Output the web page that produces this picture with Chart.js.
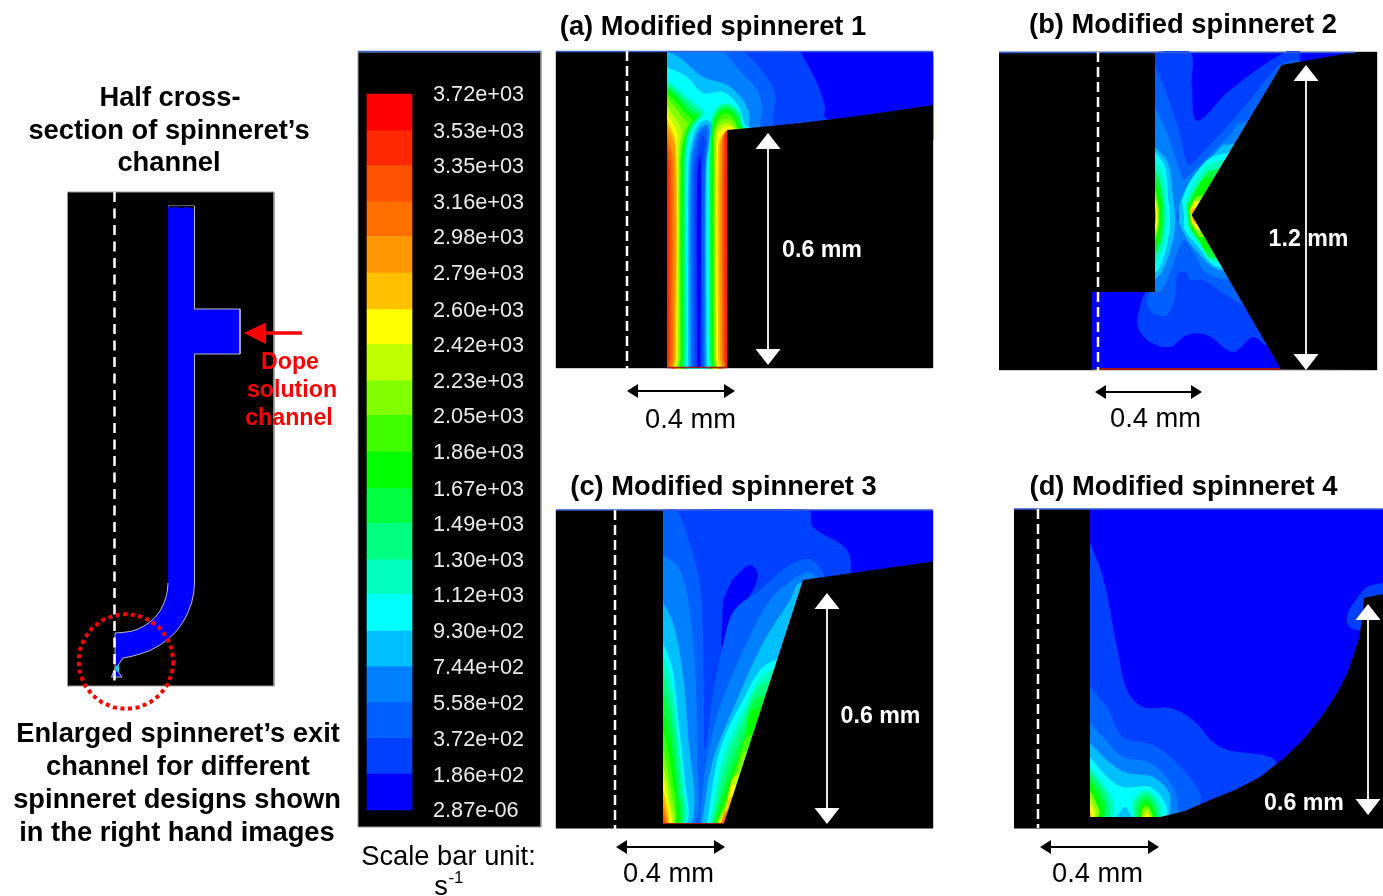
<!DOCTYPE html>
<html><head><meta charset="utf-8">
<style>html,body{margin:0;padding:0;background:#fff}canvas{display:block;filter:blur(0.5px)}</style>
<script src="https://cdn.jsdelivr.net/npm/chart.js@4"></script></head>
<body><canvas id="c" width="1383" height="896"></canvas>
<script>
// ---- scale bar ----
const tickLabels=['3.72e+03','3.53e+03','3.35e+03','3.16e+03','2.98e+03','2.79e+03','2.60e+03','2.42e+03','2.23e+03','2.05e+03','1.86e+03','1.67e+03','1.49e+03','1.30e+03','1.12e+03','9.30e+02','7.44e+02','5.58e+02','3.72e+02','1.86e+02','2.87e-06'];
const levels=[3720,3530,3350,3160,2980,2790,2600,2420,2230,2050,1860,1670,1490,1300,1120,930,744,558,372,186,0.00000287];
const bandColors=['#ff0000','#ff2800','#ff5000','#ff7000','#ff9800','#ffc000','#ffff00','#bfff00','#80ff00','#40ff00','#00ff00','#00ff40','#00ff80','#00ffbf','#00ffff','#00bfff','#0080ff','#0060ff','#0040ff','#0000ff'];

// ---- contour bands: [band, outline] in painter's order ----
const panelA=[
[1,[667,51,933,51,933,140,727,368,667,368]],
[2,[667,150,669,170,669,368,724.5,368,724.5,142,727,131,933,140,933,51,667,51]],
[3,[667,140,671,165,671,368,723.5,368,723.5,144,728,131,933,140,933,51,667,51]],
[4,[667,133,673,160,673,368,722,368,722,145,727,131,933,140,933,51,667,51]],
[5,[667,124,675,150,675,368,720,368,720,146,724,134,730,129,933,140,933,51,667,51]],
[6,[667,118,676,146,676,368,718,368,718,147,722,135,729,130,933,140,933,51,667,51]],
[7,[667,112,672,122,677,135,677,368,716.5,368,716.5,150,718,134,724,127,731,127,734,129,933,140,933,51,667,51]],
[8,[667,106,674,116,680,126,681,134,679,150,678.5,170,678.5,368,715,368,715,150,716,132,723,124,730,124,736,129,933,140,933,51,667,51]],
[9,[667,98,675,107,683,118,688,124,684,132,681,148,680,170,680,368,714,368,714,150,715,130,722,120,729,119,735,123,738,129,933,140,933,51,667,51]],
[10,[667,93,676,102,686,114,692,120,688,128,683,145,681,168,681,368,713,368,713,150,714,128,721,115,729,114,735,120,739,128,933,140,933,51,667,51]],
[11,[667,89,678,99,688,111,696,117,690,126,685,142,682.5,168,682.5,368,711.5,368,711.5,150,713,127,719,113,728,110,736,117,742,128,933,140,933,51,667,51]],
[12,[667,86,679,97,690,109,699,115,692,125,686,140,684,165,684,368,710.5,368,710.5,150,712,126,718,111,728,107,738,115,744,128,933,140,933,51,667,51]],
[13,[667,83,680,94,693,106,702,114,694,124,688,138,685.5,165,685.5,368,709.5,368,709.5,150,711,125,717,109,728,105,739,114,745,128,933,140,933,51,667,51]],
[14,[667,80,680,91,695,103,705,113,697,122,690,137,686.5,165,686.5,368,708.5,368,708.5,150,710,125,716,108,728,103,740,112,746,128,933,140,933,51,667,51]],
[15,[667,67,687,77,703,93,723,92,738,105,750,128,933,140,933,51,667,51]],
[15,[688,368,688.5,165,692,140,698,125,706,120,712,124,710,140,707,165,707,368]],
[16,[667,51,680,58,703,77,727,85,743,100,749,113,752,128,933,140,933,51]],
[16,[690,368,690,170,694,142,700,128,708,125,709,140,705.5,170,705.5,368]],
[17,[723,51,742,73,757,90,762,107,763,128,933,140,933,51]],
[17,[692,368,692,170,697,140,702,130,707,130,705,170,704,368]],
[18,[743,51,760,68,775,93,777,126,933,140,933,51]],
[18,[694.5,368,694.5,170,699,145,703,135,705,145,702.5,170,702,368]],
[19,[800,51,817,83,825,107,826,118,933,140,933,51]],
[19,[697,368,697,180,700,155,701,180,700.5,368]]];
const masksA=[[727,130,760,127,800,123,850,117,900,110,933,105,933,368,727,368],[556,51,667,51,667,368,556,368]];

const panelB=[
[19,[1155,52,1376,52,1376,369,1092,369,1092,292,1155,292]],
[18,[1155,52,1190,52,1192,85,1197,121,1230,90,1285,52,1300,52,1300,350,1266,345,1253,337,1233,352,1207,335,1187,335,1170,347,1150,342,1138,327,1140,307,1146,292,1155,292]],
[17,[1155,65,1165,90,1177,125,1186,160,1190,165,1205,150,1240,112,1270,75,1283,63,1300,63,1300,310,1255,310,1223,293,1203,280,1190,280,1187,273,1178,273,1175,297,1167,315,1153,313,1147,303,1150,292,1155,292]],
[16,[1155,107,1167,133,1177,163,1183,180,1186,178,1207,158,1230,135,1240,123,1300,123,1300,285,1233,280,1207,273,1192,250,1184,240,1178,250,1170,273,1160,292,1155,292]],
[17,[1176,217,1178,213,1182,213,1184,217,1182,221,1178,221]],
[15,[1155,147,1168,163,1173,197,1175,217,1173,240,1163,270,1155,280]],
[15,[1179,205,1190,181,1218,150,1224,145,1300,145,1300,270,1220,270,1193,247,1183,232,1179,222]],
[14,[1155,152,1165,167,1168,197,1170,217,1168,240,1160,267,1155,273]],
[14,[1182,200,1193,177,1217,155,1300,155,1300,267,1218,267,1197,245,1185,230,1184,215]],
[13,[1155,160,1162,172,1166,197,1167,217,1165,240,1159,258,1155,265]],
[13,[1185,202,1196,180,1214,162,1300,162,1300,262,1214,262,1200,245,1188,230,1186,215]],
[11,[1155,170,1160,182,1163,200,1164,217,1162,238,1157,252,1155,256]],
[11,[1187,205,1198,185,1212,170,1300,170,1300,258,1211,258,1200,242,1190,228,1188,215]],
[10,[1155,180,1160,195,1161,217,1160,235,1155,250]],
[10,[1188,207,1197,190,1206,178,1300,178,1300,250,1206,250,1199,240,1191,227,1189,215]],
[8,[1155,190,1158.5,205,1159,217,1158,230,1155,240]],
[8,[1189.5,209,1194,200,1198,196,1300,196,1300,237,1200,237,1196,232,1191,224,1190,215]],
[6,[1155,198,1157,208,1157.5,217,1157,226,1155,232]],
[6,[1190,210,1193,205,1195,201,1300,201,1300,230,1197,230,1195,227,1192,222,1191,215]],
[5,[1155,203,1156,217,1155,228]],
[5,[1191,212,1193,208,1300,208,1300,224,1195,224,1192.5,220]],
[3,[1155,208,1155.8,217,1155,224]],
[3,[1192,214,1194,211,1300,211,1300,220,1194,220,1193,218]]];
const masksB=[[1355,52,1281.7,65,1191.7,215,1280.7,369,1377,370,1377,52],[999,52,1155,52,1155,292,999,292],[999,292,1092,292,1092,370,999,370]];

const panelC=[
[19,[663,510,933,510,933,600,800,828,663,823]],
[18,[663,510,808,510,813,527,847,550,851,580,850,600,730,828,663,828]],
[19,[732,580,750,565,758,575,747,600,732,613,722,647,723,600]],
[17,[663,510,676,510,690,545,700,585,703,640,704,700,705,750,712,700,722,650,735,610,760,590,785,568,808,559,822,570,825,585,800,828,663,828]],
[16,[663,555,678,567,688,600,695,667,697,750,695,823,663,823]],
[16,[700,823,705,770,720,707,745,647,768,603,788,583,808,572,816,578,816,600,780,828]],
[15,[663,602,673,623,682,667,688,733,692,823,663,823]],
[15,[702,823,713,760,737,700,763,643,790,600,799,583,810,590,810,640,750,828]],
[14,[663,643,672,667,678,717,685,783,687,823,663,823]],
[14,[707,823,720,750,743,700,767,664,800,664,800,828]],
[13,[663,655,671,680,677,725,683,783,685,823,663,823]],
[13,[710,823,723,757,745,707,766,673,800,673,800,828]],
[12,[663,670,670,695,676,735,681,785,683,823,663,823]],
[12,[712,823,725,765,745,716,762,684,800,684,800,828]],
[11,[663,690,669,710,674,745,679,790,681,823,663,823]],
[11,[713.5,823,727,775,745,728,757,698,800,698,800,828]],
[10,[663,712,668,730,673,760,677,795,679,823,663,823]],
[10,[715,823,728,785,745,738,753,710,800,710,800,828]],
[9,[663,730,668,750,672,775,676,823,663,823]],
[9,[716,823,729,790,743,745,750,735,800,735,800,828]],
[8,[663,750,667,768,671,790,675,823,663,823]],
[8,[717,823,730,795,740,762,745,752,800,752,800,828]],
[7,[663,765,667,782,670,800,673,823,663,823]],
[7,[718,823,728,805,736,775,800,775,800,828]],
[6,[663,777,666,792,669,808,671.5,823,663,823]],
[6,[719,823,727,805,733,785,800,785,800,828]],
[5,[663,788,666,802,669,823,663,823]],
[5,[720,823,727,808,731,797,800,797,800,828]],
[4,[663,797,665.5,810,667.5,823,663,823]],
[4,[721,823,727,810,800,810,800,828]],
[3,[663,805,665,814,666.5,823,663,823]],
[3,[722,823,726,815,800,815,800,828]],
[2,[663,813,665,823,663,823]],
[2,[723,823,728,818,800,818,800,828]]];
const masksC=[[663,823,724,823,803,580,933,561.5,933,829,663,829],[556,510,663,510,663,829,556,829]];

const panelD=[
[19,[1090,509,1383,509,1383,827,1090,827]],
[18,[1090,543,1103,577,1117,647,1127,690,1143,707,1170,708,1193,720,1220,747,1270,757,1278,767,1278,830,1090,830]],
[18,[1383,583,1367,587,1358,597,1348,613,1348,625,1356,630,1370,630,1383,630]],
[17,[1090,687,1107,707,1123,737,1153,745,1177,763,1200,793,1200,807,1200,830,1090,830]],
[16,[1090,723,1103,737,1123,757,1150,763,1173,787,1178,810,1178,830,1090,830]],
[15,[1090,743,1110,763,1127,773,1153,777,1169,793,1170,815,1170,830,1090,830]],
[14,[1090,757,1107,777,1123,787,1150,787,1165,803,1165,817,1090,817]],
[15,[1117,817,1125,807,1132,817]],
[13,[1090,767,1103,783,1113,800,1112,817,1090,817]],
[13,[1133,817,1133,800,1147,790,1160,803,1162,817]],
[12,[1090,772,1102,787,1109,803,1108,817,1090,817]],
[12,[1135,817,1135,802,1147,793,1157,805,1159,817]],
[11,[1090,777,1100,790,1106,805,1105,817,1090,817]],
[11,[1137,817,1138,805,1147,797,1155,807,1157,817]],
[10,[1090,782,1097,793,1103,807,1102,817,1090,817]],
[10,[1139,817,1140,807,1147,801,1153,809,1155,817]],
[8,[1090,790,1095,800,1099,810,1098,817,1090,817]],
[8,[1141,817,1142,810,1147,806,1151,811,1153,817]],
[7,[1090,797,1094,806,1096,812,1096,817,1090,817]],
[7,[1142.5,817,1147,810,1151,817]],
[6,[1090,803,1093,810,1094,817,1090,817]],
[6,[1144,817,1147,813,1150,817]],
[5,[1090,810,1092,817,1090,817]]];
const masksD=[[1090,817,1160,817,1185,811,1210,800,1235,790,1260,777,1283,759,1303,740,1322,716,1337,693,1347,674,1353,657,1359,638,1362,620,1364,598,1383,594,1383,829,1090,829],[1014,509,1090,509,1090,829,1014,829]];

// white page margins around the panels
const pageMargins=[[545,0,1383,51],[933.5,0,999,510],[1377.5,0,1383,508.5],[545,369,999,509],[999,371,1383,508.5],[933.5,509,1014,896],[545,828.5,1383,896]];

// ---- overview channel ----
const overviewChannel=[168,206,194.5,206,194.5,309,240,309,240,354,194.5,354,194.5,583,193.7,593,191.5,603,188,612.5,183,622,176.5,631,169,638.5,160,645,150,650.5,140,654,131,656.5,123,658,119,664,115.5,668,122,677,111.5,677,115,668,115,633,122,632.5,130,631.5,137,629.5,144,626,150,622,155.5,617,160,611,163.5,604,166,597,167.5,590,168,583];
const overviewInlet=[169,208,175,207,181,208,187,207,194,209,194,206,169,206];
const overviewExitCyan=[115.5,667,119,664,119,672,115.5,671];
const overviewRing=[173.5,661.5,171.9,673.8,167.1,685.3,159.6,695.1,149.8,702.6,138.3,707.4,126,709,113.7,707.4,102.2,702.6,92.4,695.1,84.9,685.3,80.1,673.8,78.5,661.5,80.1,649.2,84.9,637.8,92.4,627.9,102.2,620.4,113.7,615.6,126,614,138.3,615.6,149.8,620.4,159.6,627.9,167.1,637.8,171.9,649.2,173.5,661.5];

// ---- frames, axes of symmetry, dimension arrows ----
const frames=[[67.5,192,274,686],[358,52,541,827],[556,51,933,368],[999,52,1377,370],[556,510,933,828],[1014,509,1383,827]];
const symmetryLines=[[114.5,192,686],[627,51,369],[1098,52,371],[615,510,829],[1038,509,828]];
const whiteDimensions=[[768,133,365],[1306,65,370],[827,593,824],[1368,604,815]];
const blackDimensions=[[627,735,391],[1095,1202,392],[616,725,847],[1040,1159,847]];
const topEdges=[[358,541,51.5],[556,933,51.5],[999,1355,52.5],[556,933,510],[1014,1383,509]];

const boldTitle='bold 27.3px "Liberation Sans"',boldDim='bold 23.2px "Liberation Sans"',regDim='27.3px "Liberation Sans"';
const annotations=[
['Half cross-',170,98.5,boldTitle,'#000'],['section of spinneret’s',169,131.5,boldTitle,'#000'],['channel',169,163.5,boldTitle,'#000'],
['Enlarged spinneret’s exit',178,734.5,boldTitle,'#000'],['channel for different',178,767.5,boldTitle,'#000'],['spinneret designs shown',177,800.5,boldTitle,'#000'],['in the right hand images',177,833.5,boldTitle,'#000'],
['(a) Modified spinneret 1',713,27.5,boldTitle,'#000'],['(b) Modified spinneret 2',1183,25.5,boldTitle,'#000'],['(c) Modified spinneret 3',723.5,487.5,boldTitle,'#000'],['(d) Modified spinneret 4',1183.5,487.5,boldTitle,'#000'],
['0.6 mm',822,250.5,boldDim,'#fff'],['1.2 mm',1308.5,239.5,boldDim,'#fff'],['0.6 mm',880.5,716.5,boldDim,'#fff'],['0.6 mm',1304,803.5,boldDim,'#fff'],
['0.4 mm',690.5,420.5,regDim,'#000'],['0.4 mm',1155.5,419.5,regDim,'#000'],['0.4 mm',668.5,874.5,regDim,'#000'],['0.4 mm',1097.5,874.5,regDim,'#000'],
['Dope',290,362.5,boldDim,'#f00'],['solution',292,390.5,boldDim,'#f00'],['channel',289,418.5,boldDim,'#f00'],
['Scale bar unit:',448.5,857.5,regDim,'#000'],['s',441,887,regDim,'#000'],['-1',456,878,'17px "Liberation Sans"','#000']];

// ---- build datasets ----
const toPts=f=>{const a=[];for(let i=0;i<f.length;i+=2)a.push({x:f[i],y:f[i+1]});return a;};
const list=[];
const shape=(f,color,extra)=>list.push(Object.assign({type:'scatter',data:toPts(f),showLine:true,fill:'shape',backgroundColor:color,borderColor:color,borderWidth:0,pointRadius:0,tension:0},extra||{}));
const stroke=(f,color,w,extra)=>list.push(Object.assign({type:'scatter',data:toPts(f),showLine:true,fill:false,borderColor:color,borderWidth:w,pointRadius:0,tension:0},extra||{}));
const rect=([a,b,c,d],color,extra)=>shape([a,b,c,b,c,d,a,d,a,b],color,extra);
// keep the straight channel walls straight when the outline is smoothed
const holdBottom=f=>{const o=[];const n=f.length/2;for(let i=0;i<n;i++){const x=f[2*i],y=f[2*i+1];
  const before=i>0&&f[2*i-1]!==368,after=i<n-1&&f[2*i+3]!==368;
  if(y===368&&before)o.push(x,358);o.push(x,y);if(y===368&&after)o.push(x,358);}return o;};

frames.forEach(r=>rect(r,'#000',{borderColor:'#9a9a9a',borderWidth:1}));
list.push({type:'bar',xAxisID:'x',yAxisID:'yv',data:bandColors.map((_,i)=>({x:389.5,y:[levels[i+1],levels[i]]})),backgroundColor:bandColors,barThickness:45,borderWidth:0});
[[panelA,masksA],[panelB,masksB],[panelC,masksC],[panelD,masksD]].forEach(([bands,masks],p)=>{
  bands.forEach(([b,f],i)=>shape(p===0?holdBottom(f):f,bandColors[b],{tension:i?0.35:0}));
  masks.forEach(m=>shape(m,'#000'));
});
pageMargins.forEach(r=>rect(r,'#fff'));
shape(overviewChannel,'#0000ff',{borderColor:'#b8b8c8',borderWidth:1});
shape(overviewInlet,'#000010');
shape(overviewExitCyan,'#20d0e0');
topEdges.forEach(([a,b,y])=>stroke([a,y,b,y],'#3a5fd8',1.5));
stroke([1100,369,1280,369],'#a01818',2);
stroke([667,367.5,727,367.5],'#a01818',1.5);
stroke([663,823.5,724,823.5],'#a01818',1);
symmetryLines.forEach(([x,a,b],i)=>stroke([x,a,x,b],'#fff',2.5,{borderDash:i?[10,5]:[10,6.5]}));
whiteDimensions.forEach(([x,a,b])=>{
  stroke([x,a+10,x,b-10],'#e8e8e8',2);
  shape([x,a,x+12.5,a+16,x-12.5,a+16],'#fff');
  shape([x,b,x+12.5,b-16,x-12.5,b-16],'#fff');
});
blackDimensions.forEach(([a,b,y])=>{
  stroke([a+6,y,b-6,y],'#000',2);
  shape([a,y,a+11,y-7,a+11,y+7],'#000');
  shape([b,y,b-11,y-7,b-11,y+7],'#000');
});
stroke([302,333,260,333],'#f00',3.4);
shape([244,333,266,322.5,266,344],'#f00');
stroke(overviewRing,'#f00',4,{borderDash:[4,3.6]});
list.forEach((d,i)=>{d.order=list.length-i;});

const tickColumnX=433;
const textPlugin={id:'annotationText',
  afterLayout(chart){const s=chart.scales.yv;s.left=s.right=chart.scales.x.getPixelForValue(tickColumnX);},
  afterDraw(chart){
    const {ctx,scales:{x,y}}=chart;ctx.save();ctx.textAlign='center';ctx.textBaseline='middle';
    annotations.forEach(([t,px,py,f,c])=>{ctx.font=f;ctx.fillStyle=c;ctx.fillText(t,x.getPixelForValue(px),y.getPixelForValue(py));});
    ctx.restore();
  }};

new Chart(document.getElementById('c'),{
  type:'scatter',
  data:{datasets:list},
  plugins:[textPlugin],
  options:{
    responsive:false,animation:false,
    layout:{padding:0},
    plugins:{legend:{display:false},tooltip:{enabled:false},title:{display:false}},
    events:[],
    scales:{
      x:{type:'linear',min:0,max:1383,display:false,offset:false},
      y:{type:'linear',min:0,max:896,reverse:true,display:false},
      yv:{type:'linear',min:-446.8,max:4208.4,position:'left',
        afterBuildTicks(a){a.ticks=levels.map(v=>({value:v}));},
        afterFit(a){a.width=0;a.paddingTop=0;a.paddingBottom=0;a.paddingLeft=0;a.paddingRight=0;},
        grid:{display:false,drawTicks:false},border:{display:false},
        ticks:{autoSkip:false,mirror:true,z:1,labelOffset:1.5,color:'#eaeaea',padding:0,font:{family:'"Liberation Sans"',size:21.7},callback:(v,i)=>tickLabels[i]}}
    }
  }
});
</script></body></html>
